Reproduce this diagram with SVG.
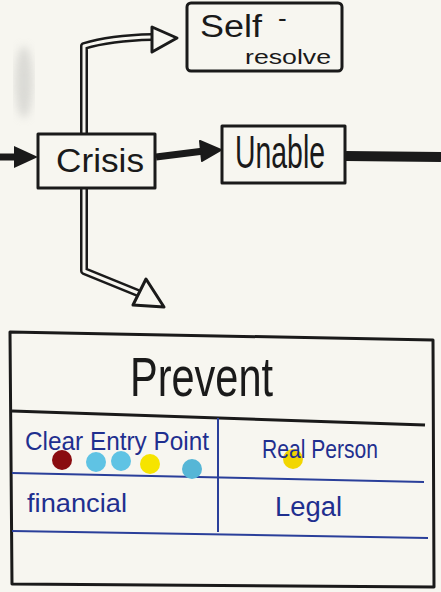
<svg xmlns="http://www.w3.org/2000/svg" width="441" height="592" viewBox="0 0 441 592">
<defs>
<style>
.box{fill:none;stroke:#1a1a1a;stroke-width:3;stroke-linejoin:round}
.ink{font-family:"Liberation Sans",Arial,sans-serif;fill:#1a1a1a}
.blue{font-family:"Liberation Sans",Arial,sans-serif;fill:#1f2f8f}
.bl{stroke:#2a3f9a;stroke-width:2;fill:none}
.hollowO{fill:none;stroke:#1a1a1a;stroke-width:8;stroke-linejoin:round;stroke-linecap:butt}
.hollowI{fill:none;stroke:#f7f6f0;stroke-width:3;stroke-linejoin:round;stroke-linecap:butt}
.head{fill:#f7f6f0;stroke:#1a1a1a;stroke-width:3;stroke-linejoin:round}
</style>
<filter id="blur"><feGaussianBlur stdDeviation="4"/></filter>
</defs>
<rect width="441" height="592" fill="#f7f6f0"/>
<ellipse cx="24" cy="82" rx="9" ry="36" fill="#c8c8c4" opacity="0.6" filter="url(#blur)"/>

<g id="connectors">
  <path d="M0,157 L22,157" stroke="#1a1a1a" stroke-width="7" fill="none"/>
  <path d="M14,146 L38,157 L14,168 Z" fill="#1a1a1a"/>
  <path class="hollowO" d="M84,134 L84,46 Q110,38 152,37"/>
  <path class="hollowI" d="M84,134 L84,46 Q110,38 152,37"/>
  <path class="head" d="M152,27 L177,38 L152,52 Z"/>
  <path d="M156,157 L204,151" stroke="#1a1a1a" stroke-width="7" fill="none"/>
  <path d="M200,141 L221,150 L202,161 Z" fill="#1a1a1a" stroke="#1a1a1a" stroke-width="2" stroke-linejoin="round"/>
  <path d="M346,156 L441,157" stroke="#1a1a1a" stroke-width="10" fill="none"/>
  <path class="hollowO" d="M84,189 L84,271 L138,293"/>
  <path class="hollowI" d="M84,189 L84,271 L138,293"/>
  <path class="head" d="M146,279 L164,307 L133,305 Z"/>
</g>

<g id="self-resolve">
  <rect class="box" x="187" y="3" width="155" height="68" rx="4"/>
  <text class="ink" x="200" y="37" font-size="31" textLength="62" lengthAdjust="spacingAndGlyphs">Self</text>
  <text class="ink" x="278" y="27" font-size="26">-</text>
  <text class="ink" x="245" y="64" font-size="20" textLength="86" lengthAdjust="spacingAndGlyphs">resolve</text>
</g>

<g id="crisis">
  <rect class="box" x="38" y="134" width="117" height="54"/>
  <text class="ink" x="56" y="172" font-size="33" textLength="88" lengthAdjust="spacingAndGlyphs">Crisis</text>
</g>

<g id="unable">
  <rect class="box" x="222" y="126" width="123" height="57"/>
  <text class="ink" x="235" y="168" font-size="46" textLength="90" lengthAdjust="spacingAndGlyphs">Unable</text>
</g>

<g id="prevent">
  <path class="box" d="M10,332 L433,340 L434,587 L12,584 Z"/>
  <text class="ink" x="130" y="396" font-size="56" textLength="143" lengthAdjust="spacingAndGlyphs">Prevent</text>
  <path d="M12,411 L425,425" stroke="#1a1a1a" stroke-width="3" fill="none"/>
  <path class="bl" d="M218,418 L218,532"/>
  <path class="bl" d="M12,473 L424,482"/>
  <path class="bl" d="M12,531 L428,538"/>
</g>

<g id="clear-entry-point">
  <text class="blue" x="25" y="450" font-size="26" textLength="184" lengthAdjust="spacingAndGlyphs">Clear Entry Point</text>
  <circle cx="62" cy="460" r="10" fill="#8a0c10"/>
  <circle cx="96" cy="462" r="10" fill="#5fc3e4"/>
  <circle cx="121" cy="461" r="10" fill="#5fc3e4"/>
  <circle cx="150" cy="464" r="10" fill="#f6e400"/>
  <circle cx="192" cy="469" r="10" fill="#56b6d6"/>
</g>

<g id="real-person">
  <circle cx="293" cy="459" r="10" fill="#f2d600"/>
  <text class="blue" x="262" y="458" font-size="25" textLength="116" lengthAdjust="spacingAndGlyphs">Real Person</text>
</g>

<g id="financial">
  <text class="blue" x="27" y="512" font-size="26" textLength="100" lengthAdjust="spacingAndGlyphs">financial</text>
</g>

<g id="legal">
  <text class="blue" x="275" y="516" font-size="27" textLength="67" lengthAdjust="spacingAndGlyphs">Legal</text>
</g>
</svg>
